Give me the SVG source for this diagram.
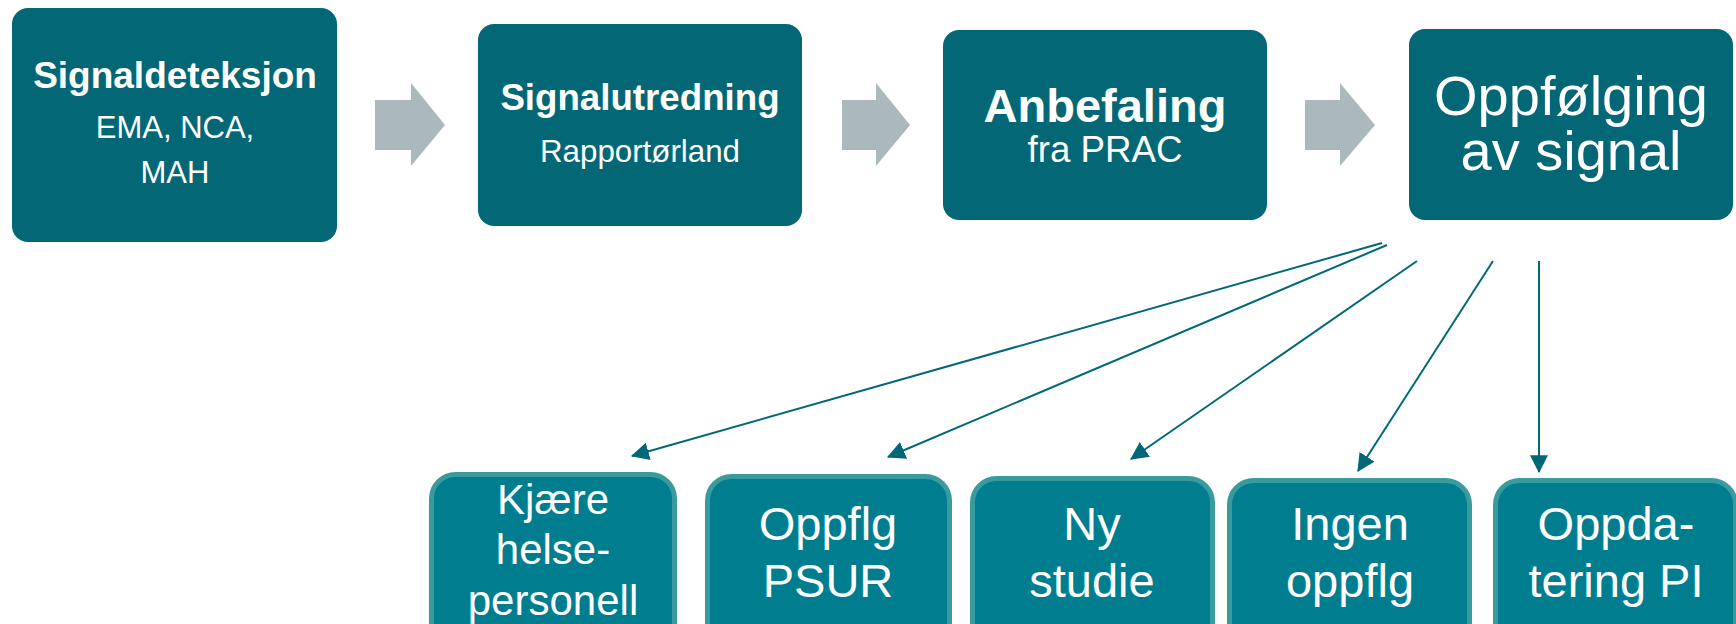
<svg xmlns="http://www.w3.org/2000/svg" width="1736" height="624" viewBox="0 0 1736 624">
<style>
.top{fill:#036775}
.bot{fill:#007E8F;stroke:#3A9B9E;stroke-width:5}
.blk{fill:#ABB8BC}
.t{font-family:"Liberation Sans",Arial,sans-serif;fill:#ffffff;text-anchor:middle}
.b{font-weight:bold}
.con{stroke:#006878;stroke-width:2;fill:none;marker-end:url(#ah)}
</style>
<defs>
<marker id="ah" markerUnits="userSpaceOnUse" markerWidth="18" markerHeight="18" viewBox="0 0 16 16" refX="15" refY="8" orient="auto">
<path d="M0,0 L16,8 L0,16 Z" fill="#006878"/>
</marker>
</defs>
<rect width="1736" height="624" fill="#ffffff"/>
<g id="block-arrows">
<path class="blk" d="M375,100 H411 V83 L445,125 L411,166 V150 H375 Z"/>
<path class="blk" d="M842,100 H876 V83 L910,125 L876,166 V150 H842 Z"/>
<path class="blk" d="M1305,100 H1340 V83 L1375,125 L1340,166 V150 H1305 Z"/>
</g>
<g id="signaldeteksjon">
<rect class="top" x="12" y="8" width="325" height="234" rx="16"/>
<text class="t b" x="175" y="88" font-size="37">Signaldeteksjon</text>
<text class="t" x="175" y="138" font-size="31">EMA, NCA,</text>
<text class="t" x="175" y="183" font-size="31">MAH</text>
</g>
<g id="signalutredning">
<rect class="top" x="478" y="24" width="324" height="202" rx="16"/>
<text class="t b" x="640" y="110" font-size="36.7">Signalutredning</text>
<text class="t" x="640" y="162" font-size="31.3">Rapportørland</text>
</g>
<g id="anbefaling">
<rect class="top" x="943" y="30" width="324" height="190" rx="16"/>
<text class="t b" x="1105" y="122" font-size="47">Anbefaling</text>
<text class="t" x="1105" y="162" font-size="36.7">fra PRAC</text>
</g>
<g id="oppfolging">
<rect class="top" x="1409" y="29" width="324" height="191" rx="16"/>
<text class="t" x="1571" y="115" font-size="56">Oppfølging</text>
<text class="t" x="1571" y="170" font-size="56">av signal</text>
</g>
<g id="connectors">
<path class="con" d="M1382,243 L632,456"/>
<path class="con" d="M1387,245 L888,457"/>
<path class="con" d="M1417,261 L1131,459"/>
<path class="con" d="M1493,261 L1358,471"/>
<path class="con" d="M1539,261 L1539,472"/>
</g>
<g id="kjaere">
<rect class="bot" x="431.5" y="474.5" width="243" height="200" rx="24"/>
<text class="t" x="553" y="514" font-size="42">Kjære</text>
<text class="t" x="553" y="564" font-size="42">helse-</text>
<text class="t" x="553" y="615" font-size="42">personell</text>
</g>
<g id="psur">
<rect class="bot" x="707.5" y="476.5" width="242" height="200" rx="24"/>
<text class="t" x="828" y="540" font-size="47">Oppflg</text>
<text class="t" x="828" y="597" font-size="47">PSUR</text>
</g>
<g id="studie">
<rect class="bot" x="972.5" y="478.5" width="240" height="200" rx="24"/>
<text class="t" x="1092" y="540" font-size="47">Ny</text>
<text class="t" x="1092" y="597" font-size="47">studie</text>
</g>
<g id="ingen">
<rect class="bot" x="1229.5" y="480.5" width="240" height="200" rx="24"/>
<text class="t" x="1350" y="540" font-size="47">Ingen</text>
<text class="t" x="1350" y="597" font-size="47">oppflg</text>
</g>
<g id="oppdatering">
<rect class="bot" x="1495.5" y="480.5" width="240" height="200" rx="24"/>
<text class="t" x="1616" y="540" font-size="47">Oppda-</text>
<text class="t" x="1616" y="597" font-size="47">tering PI</text>
</g>
</svg>
